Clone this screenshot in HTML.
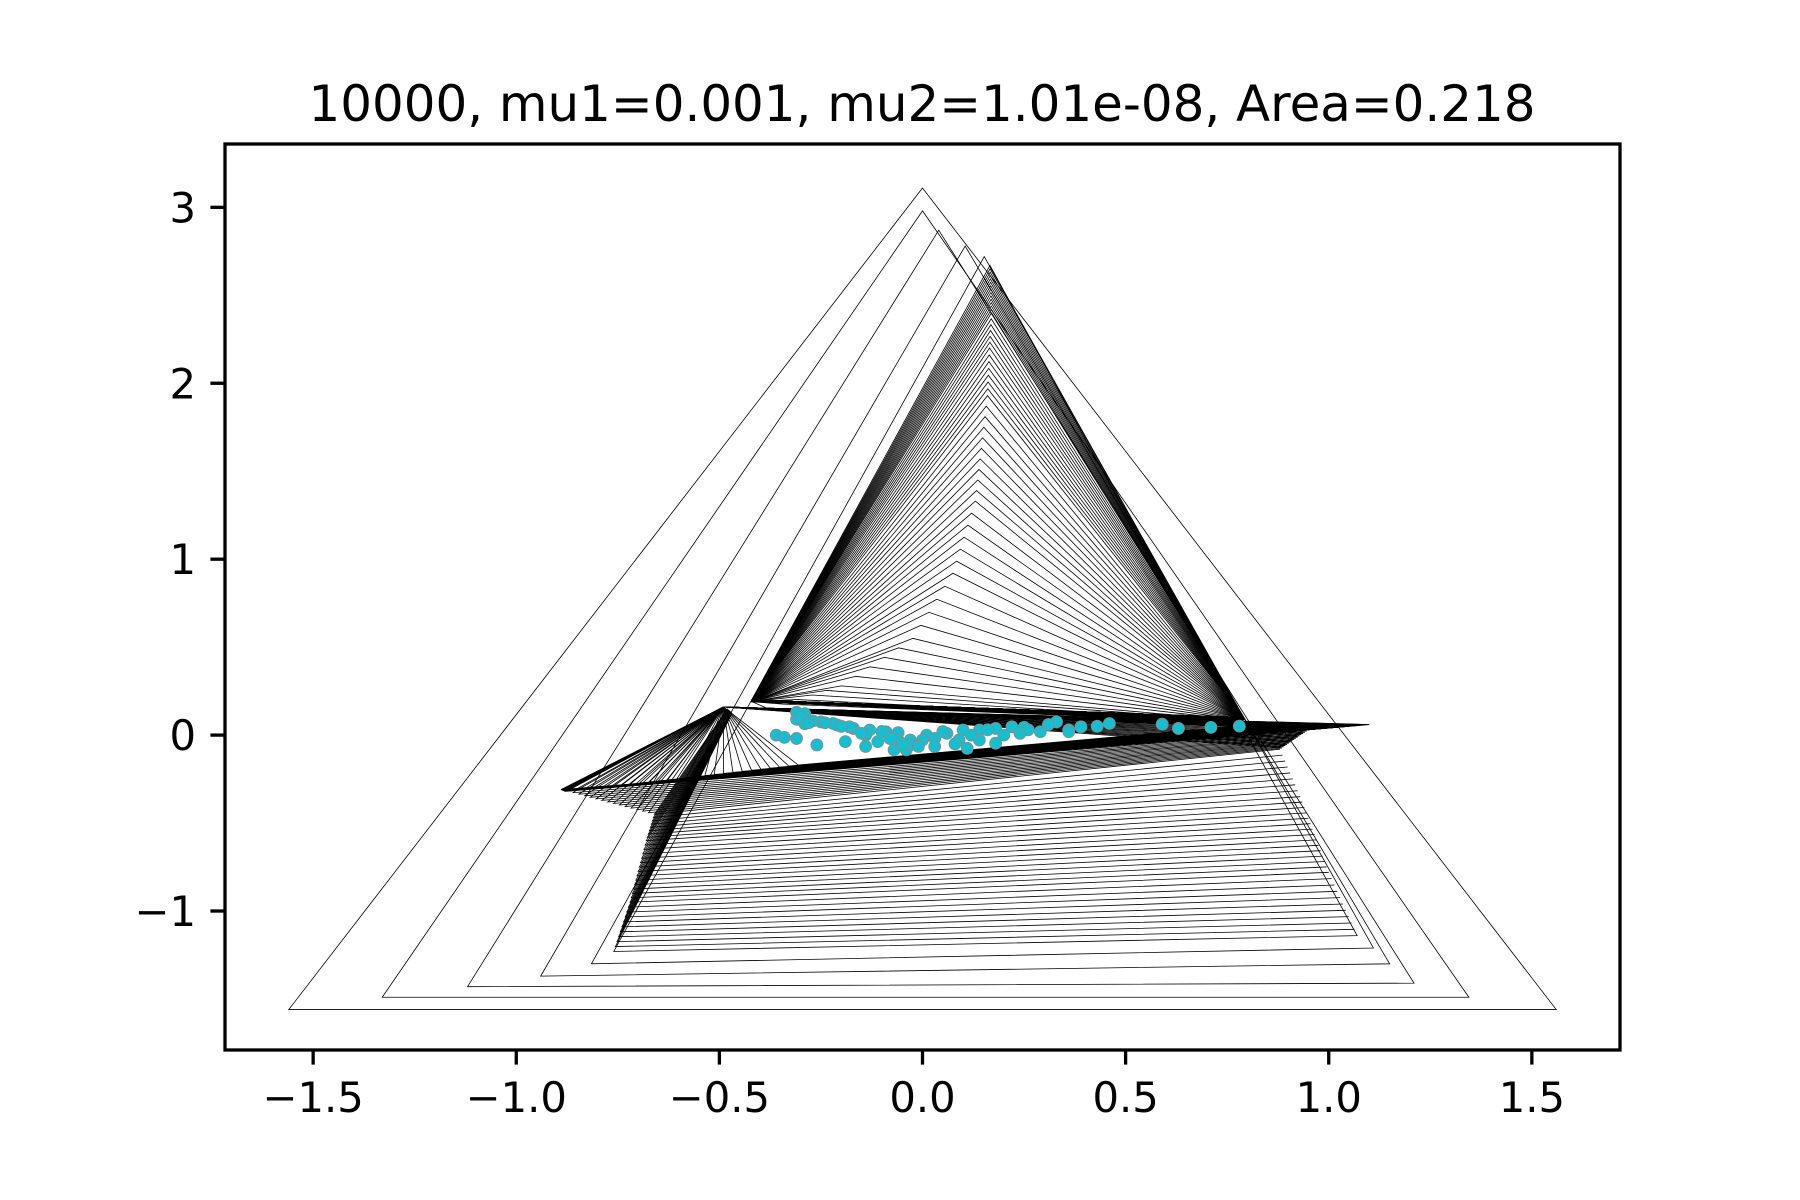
<!DOCTYPE html>
<html><head><meta charset="utf-8"><style>
html,body{margin:0;padding:0;background:#fff;}
svg{display:block;}
text{font-family:"DejaVu Sans","Liberation Sans",sans-serif;fill:#000;}
</style></head>
<body>
<svg id="chart" width="1800" height="1200" viewBox="0 0 1800 1200" xmlns="http://www.w3.org/2000/svg">
<rect x="0" y="0" width="1800" height="1200" fill="#fff"/>
<text x="922" y="121" font-size="50" text-anchor="middle" textLength="1227" lengthAdjust="spacingAndGlyphs">10000, mu1=0.001, mu2=1.01e-08, Area=0.218</text>
<g id="plot"></g>
<g id="axes"></g>
</svg>
<script>
// outer (early) triangles
const oAX=[0,0,0.04,0.105,0.152,0.166];
const oAY=[3.11,2.98,2.87,2.78,2.72,2.67];
const oBX=[-1.56,-1.33,-1.12,-0.94,-0.815,-0.76];
const oBY=[-1.56,-1.49,-1.43,-1.37,-1.30,-1.23];
const oCX=[1.56,1.345,1.21,1.15,1.11,1.07];
const oCY=[-1.56,-1.49,-1.41,-1.30,-1.21,-1.14];
// lower family keyframes (rising base, third vertex near left band end)
const lPX=[-0.47,-0.47,-0.47,-0.48];
const lPY=[0.12,0.12,0.13,0.15];
const lQX=[-0.76,-0.72,-0.68,-0.66];
const lQY=[-1.23,-0.95,-0.6,-0.45];
const lRX=[1.07,1.0,0.93,0.88];
const lRY=[-1.14,-0.78,-0.35,-0.08];
const lSteps=[0,10,14,8];
// wing family keyframes
const wPX=[-0.49,-0.49,-0.49,-0.49];
const wPY=[0.16,0.16,0.16,0.16];
const wQX=[-0.66,-0.89,-0.88,-0.306];
const wQY=[-0.45,-0.31,-0.32,-0.17];
const wRX=[0.88,0.95,1.1,0.82];
const wRY=[-0.08,0.03,0.06,0.06];
const wSteps=[0,16,12,25];
// chevron family keyframes (descending apex)
const cAX=[0.166,0.17,0.165,0.16,0.13,0.075,-0.024,-0.2,-0.38];
const cAY=[2.67,2.4,2.2,1.93,1.33,0.92,0.55,0.28,0.15];
const cBX=[-0.42,-0.42,-0.42,-0.42,-0.42,-0.42,-0.42,-0.42,-0.42];
const cBY=[0.2,0.2,0.2,0.2,0.19,0.19,0.19,0.19,0.19];
const cCX=[0.79,0.79,0.79,0.79,0.79,0.79,0.79,0.79,0.8];
const cCY=[0.1,0.1,0.1,0.1,0.09,0.09,0.09,0.08,0.07];
const cSteps=[0,14,6,7,10,6,5,5,5];
// scatter points
const ptX=[-0.31,-0.31,-0.29,-0.25,-0.21,-0.17,-0.13,-0.09,-0.06,-0.14,-0.11,-0.07,-0.04,-0.03,0.01,0.06,0.1,0.14,0.18,0.22,0.25,0.29,0.33,0.36,0.39,0.46,0.59,0.63,0.71,0.78,-0.36,-0.34,-0.31,-0.26,-0.19,-0.14,-0.03,0.0,0.03,0.09,0.11,0.14,0.18,0.2,0.24,0.36,-0.06,-0.01,0.03,-0.29,-0.27,-0.22,-0.18,-0.15,-0.3,-0.28,-0.24,-0.2,-0.1,-0.08,-0.05,0.05,0.08,0.12,0.16,0.26,0.31,0.43];
const ptY=[0.13,0.09,0.065,0.075,0.057,0.038,0.029,0.019,0.014,0.0,-0.037,-0.084,-0.084,-0.028,0.0,0.01,0.029,0.029,0.038,0.047,0.044,0.019,0.075,0.029,0.047,0.066,0.062,0.038,0.044,0.051,0.0,-0.013,-0.019,-0.056,-0.037,-0.065,-0.056,-0.028,-0.019,-0.028,-0.075,-0.028,-0.046,0.0,0.01,0.019,-0.028,-0.065,-0.065,0.122,0.081,0.066,0.047,0.01,0.1,0.07,0.07,0.05,0.02,-0.02,-0.05,0.02,-0.05,0.0,0.03,0.03,0.06,0.05];
const xTicks=[-1.5,-1.0,-0.5,0.0,0.5,1.0,1.5];
const xTickLabels=["\u22121.5","\u22121.0","\u22120.5","0.0","0.5","1.0","1.5"];
const yTicks=[-1,0,1,2,3];
const yTickLabels=["\u22121","0","1","2","3"];

const L=225,R=1620,T=144,B=1050;
const xMin=-1.717,xMax=1.717,yMin=-1.79,yMax=3.36;
function sx(v){return L+(v-xMin)/(xMax-xMin)*(R-L);}
function sy(v){return B-(v-yMin)/(yMax-yMin)*(B-T);}
const NS='http://www.w3.org/2000/svg';
const plot=document.getElementById('plot');
const axes=document.getElementById('axes');
const defs=document.createElementNS(NS,'defs');
defs.innerHTML='<clipPath id="clip"><rect x="225" y="144" width="1395" height="906"/></clipPath>';
document.getElementById('chart').insertBefore(defs,plot);
plot.setAttribute('clip-path','url(#clip)');

function tri(ax,ay,bx,by,cx,cy,open){
  const p=document.createElementNS(NS,open?'polyline':'polygon');
  
  
  p.setAttribute('points',sx(ax)+','+sy(ay)+' '+sx(bx)+','+sy(by)+' '+sx(cx)+','+sy(cy));
  p.setAttribute('fill','none');
  p.setAttribute('stroke','#000');
  p.setAttribute('stroke-width','0.8');
  plot.appendChild(p);
}
function family(AX,AY,BX,BY,CX,CY,S,open){
  for(let k=1;k<AX.length;k++){
    const n=S[k];
    for(let s=1;s<=n;s++){
      const t=s/n;
      tri(AX[k-1]+(AX[k]-AX[k-1])*t,AY[k-1]+(AY[k]-AY[k-1])*t,
          BX[k-1]+(BX[k]-BX[k-1])*t,BY[k-1]+(BY[k]-BY[k-1])*t,
          CX[k-1]+(CX[k]-CX[k-1])*t,CY[k-1]+(CY[k]-CY[k-1])*t,open);
    }
  }
}
for(let i=0;i<oAX.length;i++) tri(oAX[i],oAY[i],oBX[i],oBY[i],oCX[i],oCY[i],false);
family(lPX,lPY,lQX,lQY,lRX,lRY,lSteps,true);
family(wPX,wPY,wQX,wQY,wRX,wRY,wSteps,false);
family(cAX,cAY,cBX,cBY,cCX,cCY,cSteps,false);
for(let i=0;i<ptX.length;i++){
  const c=document.createElementNS(NS,'circle');
  
  
  c.setAttribute('cx',sx(ptX[i]));c.setAttribute('cy',sy(ptY[i]));c.setAttribute('r','6');
  c.setAttribute('fill','#17becf');c.setAttribute('stroke','#8a8a8a');c.setAttribute('stroke-width','0.8');
  plot.appendChild(c);
}
const fr=document.createElementNS(NS,'rect');


fr.setAttribute('x',L);fr.setAttribute('y',T);fr.setAttribute('width',R-L);fr.setAttribute('height',B-T);
fr.setAttribute('fill','none');fr.setAttribute('stroke','#000');fr.setAttribute('stroke-width','3.3');
axes.appendChild(fr);
for(let i=0;i<xTicks.length;i++){
  const x=sx(xTicks[i]);
  const l=document.createElementNS(NS,'line');
  
  
  l.setAttribute('x1',x);l.setAttribute('x2',x);l.setAttribute('y1',B);l.setAttribute('y2',B+14.6);
  l.setAttribute('stroke','#000');l.setAttribute('stroke-width','3.3');
  axes.appendChild(l);
  const t=document.createElementNS(NS,'text');
  
  
  t.setAttribute('x',x);t.setAttribute('y',B+62);t.setAttribute('font-size','41.7');t.setAttribute('text-anchor','middle');
  t.textContent=xTickLabels[i];
  axes.appendChild(t);
}
for(let i=0;i<yTicks.length;i++){
  const y=sy(yTicks[i]);
  const l=document.createElementNS(NS,'line');
  
  
  l.setAttribute('x1',L-14.6);l.setAttribute('x2',L);l.setAttribute('y1',y);l.setAttribute('y2',y);
  l.setAttribute('stroke','#000');l.setAttribute('stroke-width','3.3');
  axes.appendChild(l);
  const t=document.createElementNS(NS,'text');
  
  
  t.setAttribute('x',L-29);t.setAttribute('y',y+15);t.setAttribute('font-size','41.7');t.setAttribute('text-anchor','end');
  t.textContent=yTickLabels[i];
  axes.appendChild(t);
}
</script>
</body></html>
